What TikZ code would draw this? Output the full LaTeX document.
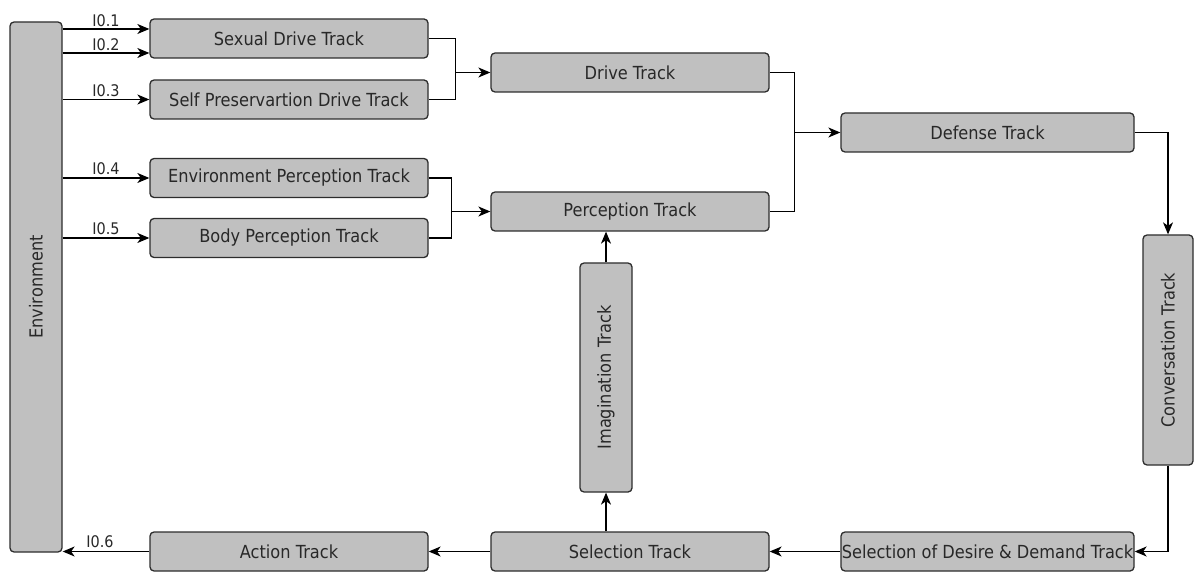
\documentclass[tikz,border=0pt]{standalone}
\usepackage{fontspec}
\setmainfont{DejaVu Sans}[FakeStretch=0.9]
\usetikzlibrary{arrows.meta}
\definecolor{boxfill}{RGB}{192,192,192}
\definecolor{boxline}{RGB}{45,45,45}
\definecolor{txt}{RGB}{40,40,40}
\tikzset{
  trackfont/.style={font=\fontsize{18}{21}\selectfont},
  track/.style={draw=boxline, fill=boxfill, line width=1.3pt, rounded corners=4pt,
    inner sep=0pt, text=txt, trackfont,
    minimum width=278, minimum height=39},
  widetrack/.style={track, minimum width=293},
  vtrack/.style={track, minimum width=52},
  vtext/.style={rotate=90, text=txt, trackfont},
  link/.style={draw=black, line width=1.2pt},
  arr/.style={link, -{Stealth[length=12pt, width=10pt, inset=3.5pt]}},
  lbl/.style={text=txt, font=\fontsize{16}{18}\selectfont, inner sep=1.5pt}
}
\begin{document}
\begin{tikzpicture}[x=1pt, y=-1pt]
\useasboundingbox (0,0) rectangle (1195,572);

% boxes
\node[vtrack, minimum height=530] (env) at (36,287) {};
\node[vtext] (envtxt) at (env.center) {Environment};

\node[track] (sex)  at (289,38.5)  {Sexual Drive Track};
\node[track] (self) at (289,99.5)  {Self Preservartion Drive Track};
\node[track] (envp) at (289,178)   {Environment Perception Track};
\node[track] (body) at (289,238)   {Body Perception Track};

\node[track] (drive) at (630,72.5)  {Drive Track};
\node[track] (perc)  at (630,211.5) {Perception Track};

\node[widetrack] (def) at (987.5,132.5) {Defense Track};

\node[vtrack, minimum width=50, minimum height=230] (conv) at (1168,350) {};
\node[vtext] (convtxt) at (conv.center) {Conversation Track};

\node[vtrack, minimum height=229] (imag) at (606,377.5) {};
\node[vtext] (imagtxt) at (imag.center) {Imagination Track};

\node[track] (act) at (289,551.5) {Action Track};
\node[track] (sel) at (630,551.5) {Selection Track};
\node[widetrack] (sdd) at (987.5,551.5) {Selection of Desire \& Demand Track};

% inputs from the environment
\path ([yshift=9.5pt]sex.west) coordinate (s1)
      ([yshift=-14.5pt]sex.west) coordinate (s2);
\draw[arr] (env.east |- s1) -- node[lbl, above] {I0.1} (s1);
\draw[arr] (env.east |- s2) -- node[lbl, above] {I0.2} (s2);
\draw[arr] (env.east |- self.west) -- node[lbl, above, yshift=1pt] {I0.3} (self.west);
\draw[arr] (env.east |- envp.west) -- node[lbl, above, yshift=1pt] {I0.4} (envp.west);
\draw[arr] (env.east |- body.west) -- node[lbl, above, yshift=1pt] {I0.5} (body.west);

% drive merge
\coordinate (j1) at ([xshift=27pt]sex.east);
\draw[link] (sex.east) -- (j1) |- (self.east);
\draw[arr] (drive.west -| j1) -- (drive.west);

% perception merge
\coordinate (j2) at ([xshift=23pt]envp.east);
\draw[link] (envp.east) -- (j2) |- (body.east);
\draw[arr] (perc.west -| j2) -- (perc.west);

% defense merge
\coordinate (j3) at ([xshift=25pt]drive.east);
\draw[link] (drive.east) -- (j3) |- (perc.east);
\draw[arr] (def.west -| j3) -- (def.west);

% right side loop
\draw[arr] (def.east) -| (conv.north);
\draw[arr] (conv.south) |- (sdd.east);
\draw[arr] (sdd.west) -- (sel.east);
\draw[arr] (sel.west) -- (act.east);
\draw[arr] (act.west) -- node[lbl, above, xshift=-6pt, yshift=2pt] {I0.6} (env.east |- act.west);

% imagination loop
\draw[arr] (sel.north -| imag.south) -- (imag.south);
\draw[arr] (imag.north) -- (perc.south -| imag.north);
\end{tikzpicture}
\end{document}
